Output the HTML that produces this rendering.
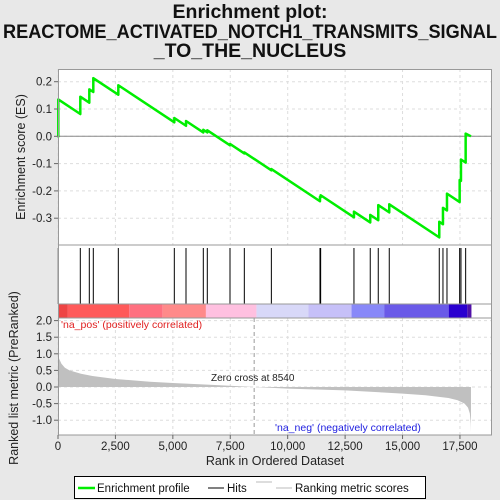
<!DOCTYPE html>
<html><head><meta charset="utf-8"><style>
html,body{margin:0;padding:0;background:#e8e8e8;}
svg{display:block;font-family:"Liberation Sans",sans-serif;}
</style></head><body>
<svg id="chart" width="500" height="500" viewBox="0 0 500 500">
<rect x="0" y="0" width="500" height="500" fill="#e8e8e8"/>
<g font-weight="bold" font-size="19.5" text-anchor="middle" fill="#111">
<text x="250" y="18">Enrichment plot:</text>
<text x="250" y="38" textLength="494" lengthAdjust="spacingAndGlyphs">REACTOME_ACTIVATED_NOTCH1_TRANSMITS_SIGNAL</text>
<text x="250" y="57">_TO_THE_NUCLEUS</text>
</g>
<rect x="58" y="69" width="434" height="366" fill="#fff"/>
<g id="grid"></g>
<g id="es-panel"></g>
<g id="hits"></g>
<g id="colorbar"></g>
<g id="metric"></g>
<g id="frames" fill="none" stroke="#999" stroke-width="1">
<rect x="58.5" y="69.5" width="433" height="175.5"/>
<rect x="58.5" y="245" width="433" height="59"/>
<rect x="58.5" y="304" width="433" height="14"/>
<rect x="58.5" y="318" width="433" height="117"/>
</g>
<g id="axes" font-size="11.5" fill="#222"></g>
<text x="25" y="157" transform="rotate(-90 25 157)" text-anchor="middle" font-size="12.5" fill="#222">Enrichment score (ES)</text>
<text x="18" y="378" transform="rotate(-90 18 378)" text-anchor="middle" font-size="12.5" fill="#222">Ranked list metric (PreRanked)</text>
<text x="275" y="465" text-anchor="middle" font-size="12.5" fill="#222">Rank in Ordered Dataset</text>
<text x="61" y="328" font-size="10.5" fill="#e02020">'na_pos' (positively correlated)</text>
<text x="275" y="431" font-size="10.5" fill="#2020e0">'na_neg' (negatively correlated)</text>
<text x="211" y="381" font-size="10" fill="#222">Zero cross at 8540</text>
<g>
<rect x="74.5" y="476.5" width="351" height="22" fill="#fff" stroke="#000"/>
<line x1="78" y1="488" x2="95" y2="488" stroke="#00ee00" stroke-width="2.5"/>
<text x="97" y="492" font-size="11.5" fill="#111">Enrichment profile</text>
<line x1="208" y1="488" x2="224" y2="488" stroke="#000" stroke-width="1"/>
<text x="227" y="492" font-size="11.5" fill="#111">Hits</text>
<line x1="256" y1="482" x2="272" y2="482" stroke="#bbb" stroke-width="1"/>
<line x1="276" y1="488" x2="292" y2="488" stroke="#bbb" stroke-width="1"/>
<text x="295" y="492" font-size="11.5" fill="#111">Ranking metric scores</text>
</g>
</svg>
<script>
const N = 17980;
const hitRanks = [13,971,1363,1537,2626,5064,5573,6326,6500,7488,8112,9289,11406,11435,12885,13594,13943,14422,16599,16760,16935,17487,17544,17748];
const esAfterHit = [0.135,0.145,0.172,0.213,0.187,0.067,0.056,0.024,0.022,-0.028,-0.059,-0.12,-0.222,-0.216,-0.276,-0.288,-0.252,-0.249,-0.313,-0.262,-0.21,-0.16,-0.085,0.01];
const metricRanks = [0,50,150,300,500,1000,1500,2500,4000,5000,6500,8540,10000,12500,14000,15000,16000,17000,17400,17700,17850,17930,17970,17980];
const metricValues = [1.0,0.85,0.7,0.58,0.5,0.4,0.33,0.24,0.16,0.12,0.07,0.0,-0.05,-0.1,-0.16,-0.2,-0.25,-0.33,-0.4,-0.5,-0.62,-0.8,-1.1,-1.35];
const xTicks = [0,2500,5000,7500,10000,12500,15000,17500];
const xTickLabels = ["0","2,500","5,000","7,500","10,000","12,500","15,000","17,500"];
const esTicks = [0.2,0.1,0.0,-0.1,-0.2,-0.3];
const esTickLabels = ["0.2","0.1","0.0","-0.1","-0.2","-0.3"];
const mTicks = [2.0,1.5,1.0,0.5,0.0,-0.5,-1.0];
const mTickLabels = ["2.0","1.5","1.0","0.5","0.0","-0.5","-1.0"];
const barEdges = [0,430,3100,4560,6440,8640,10900,12780,14200,17010,17820,18000];
const barColors = ["#ee4444","#ff5a5a","#ff7080","#ff8a8a","#ffc0e0","#d8d8f8","#c6c0f8","#8888f8","#6a5ae8","#2a00d0","#5010a8"];
const zeroCross = 8540;

const NS="http://www.w3.org/2000/svg";
const x = r => 58 + r * (434/18895);
const yES = v => 136.3 - v*273;
const yM = v => 387 - v*33.2;
function mk(tag, attrs, parent){const e=document.createElementNS(NS,tag);for(const k in attrs)e.setAttribute(k,attrs[k]);parent.appendChild(e);return e;}
const grid=document.getElementById('grid'), axes=document.getElementById('axes');
xTicks.forEach((t,i)=>{
  [[69,245],[318,435]].forEach(([a,b])=>{
    const l=mk('line',{x1:x(t),x2:x(t),y1:a,y2:b,stroke:'#ddd','stroke-dasharray':'3,3'},grid);
    
    
  });
  const tk=mk('line',{x1:x(t),x2:x(t),y1:435,y2:439,stroke:'#666'},axes);
  
  
  const tx=mk('text',{x:x(t),y:450,'text-anchor':'middle'},axes);tx.textContent=xTickLabels[i];
  
  
});
esTicks.forEach((t,i)=>{
  const l=mk('line',{x1:58,x2:492,y1:yES(t),y2:yES(t),stroke:'#ddd','stroke-dasharray':'3,3'},grid);
  
  
  const tx=mk('text',{x:52,y:yES(t)+4,'text-anchor':'end'},axes);tx.textContent=esTickLabels[i];
  
  
  const tk=mk('line',{x1:54,x2:58,y1:yES(t),y2:yES(t),stroke:'#666'},axes);
  
  
});
mTicks.forEach((t,i)=>{
  const l=mk('line',{x1:58,x2:492,y1:yM(t),y2:yM(t),stroke:'#ddd','stroke-dasharray':'3,3'},grid);
  
  
  const tx=mk('text',{x:52,y:yM(t)+4,'text-anchor':'end'},axes);tx.textContent=mTickLabels[i];
  
  
  const tk=mk('line',{x1:54,x2:58,y1:yM(t),y2:yM(t),stroke:'#666'},axes);
  
  
});
// ES panel
const es=document.getElementById('es-panel');
const z=mk('line',{x1:58,x2:492,y1:yES(0),y2:yES(0),stroke:'#888'},es);


const slope = 1/(N-hitRanks.length);
let pts=[[x(0),yES(0)]];
let prevR=0, prevV=0;
hitRanks.forEach((r,i)=>{
  const pre = prevV - (r-prevR)*slope;
  pts.push([x(r),yES(pre)]);
  pts.push([x(r),yES(esAfterHit[i])]);
  prevR=r; prevV=esAfterHit[i];
});
pts.push([x(N),yES(Math.max(prevV-(N-prevR)*slope,0))]);
const pl=mk('polyline',{points:pts.map(p=>p.join(',')).join(' '),fill:'none',stroke:'#00ee00','stroke-width':2.5,'stroke-linejoin':'round'},es);


// hits
const hits=document.getElementById('hits');
hitRanks.forEach(r=>{
  const l=mk('line',{x1:x(r),x2:x(r),y1:248,y2:304,stroke:'#000','stroke-width':1},hits);
  
  
});
// colorbar
const cb=document.getElementById('colorbar');
barColors.forEach((c,i)=>{
  const r=mk('rect',{x:x(barEdges[i]),y:304,width:x(barEdges[i+1])-x(barEdges[i]),height:14,fill:c},cb);
  
  
});
// metric
const m=document.getElementById('metric');
let mp=[[x(0),yM(0)]];
metricRanks.forEach((r,i)=>mp.push([x(r),yM(metricValues[i])]));
mp.push([x(metricRanks[metricRanks.length-1]),yM(0)]);
const poly=mk('polygon',{points:mp.map(p=>p.join(',')).join(' '),fill:'#c0c0c0',stroke:'none'},m);


const zc=mk('line',{x1:x(zeroCross),x2:x(zeroCross),y1:318,y2:435,stroke:'#999','stroke-dasharray':'4,3'},m);


</script>
</body></html>
